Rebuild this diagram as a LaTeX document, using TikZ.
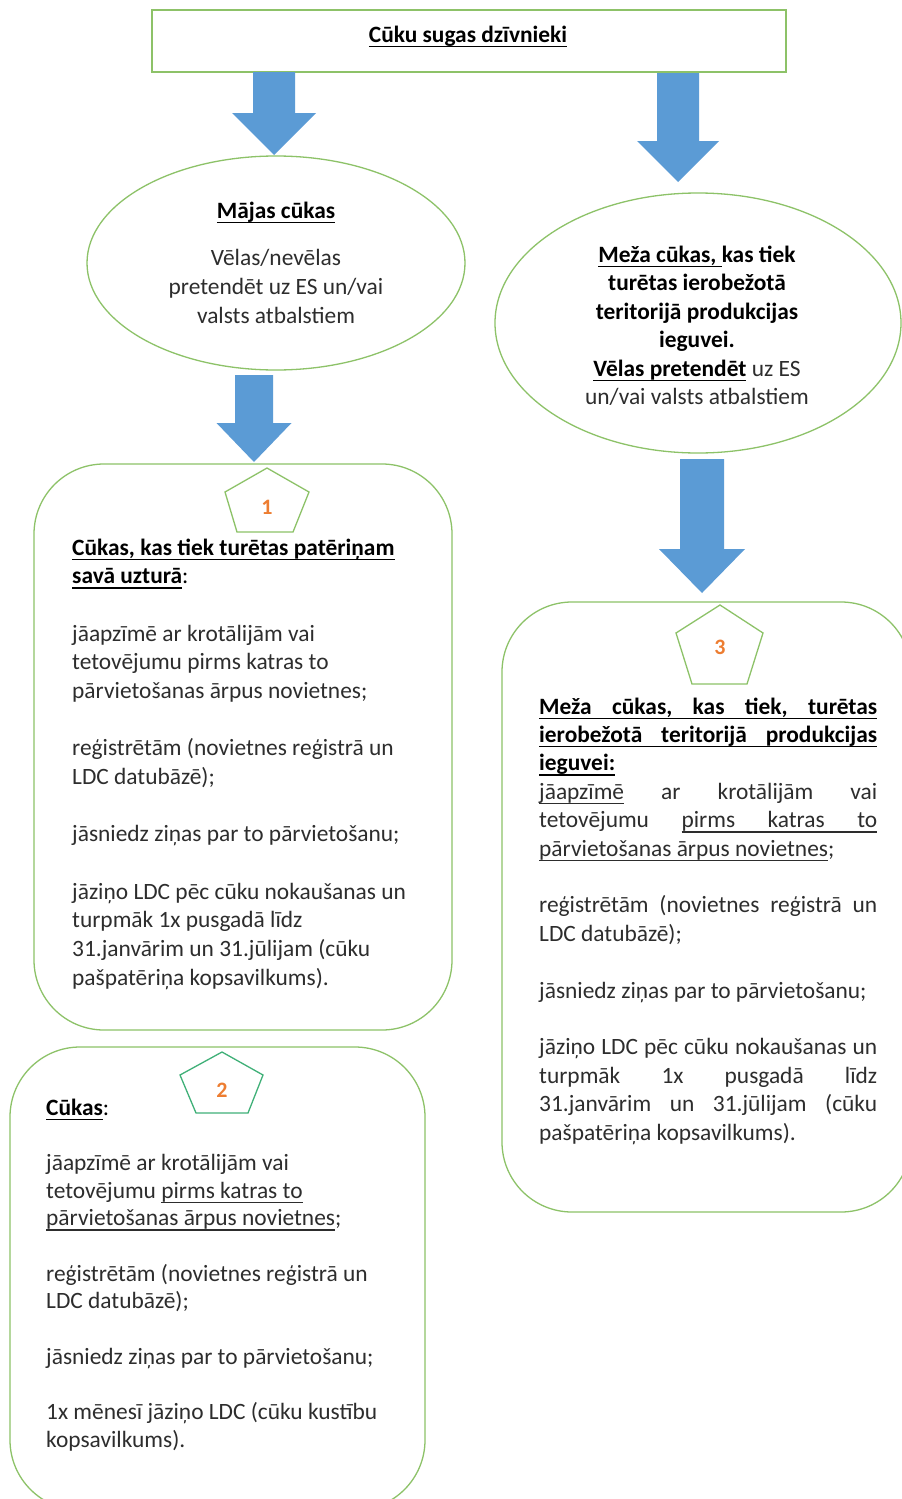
\documentclass[tikz,border=0pt]{standalone}
\usepackage{fontspec}
\setmainfont{Carlito}
\usetikzlibrary{shapes.geometric}
\definecolor{grn}{RGB}{141,194,104}
\definecolor{teal2}{RGB}{64,176,120}
\definecolor{ablue}{RGB}{91,155,213}
\definecolor{orng}{RGB}{237,125,49}
\definecolor{txtgray}{RGB}{45,45,45}
\newsavebox\ulbox
\newcommand\ulw[1]{\sbox\ulbox{#1}\rlap{\usebox\ulbox}\rule[-4.9pt]{\wd\ulbox}{1.3pt}}
\newcommand\uls{\leaders\hrule height -3.6pt depth 4.9pt\hskip\fontdimen2\font plus\fontdimen3\font minus\fontdimen4\font\relax}
\newcommand\J[1]{\makebox[338pt][s]{#1}}
\newcommand\blockarrow[6]{% cx, top, headstart, tip, shafthalf, headhalf
  \fill[ablue] (#1-#5,#2) -- (#1+#5,#2) -- (#1+#5,#3) -- (#1+#6,#3) -- (#1,#4)
    -- (#1-#6,#3) -- (#1-#5,#3) -- cycle;}
\tikzset{
  body/.style={anchor=base west, inner sep=0pt, text=txtgray,
    font=\fontsize{23.4}{28}\selectfont},
  ctr/.style={anchor=base, inner sep=0pt, text=txtgray,
    font=\fontsize{23.4}{28}\selectfont},
  bodyb/.style={body, text=black, font=\bfseries\fontsize{23.4}{28}\selectfont},
  ctrb/.style={ctr, text=black, font=\bfseries\fontsize{23.4}{28}\selectfont},
  greenline/.style={draw=grn, line width=1.3pt},
  num/.style={inner sep=0pt, text=orng, font=\bfseries\fontsize{22}{26}\selectfont},
}
\begin{document}
\begin{tikzpicture}[x=1pt,y=-1pt]
\useasboundingbox (0,0) rectangle (902,1499);
\clip (0,0) rectangle (902,1499);
\fill[white] (0,0) rectangle (902,1499);

% top box
\node[greenline, rectangle, minimum width=634pt, minimum height=62pt, inner sep=0pt] (top) at (469,41) {};
\node[ctrb] (toptxt) at (468,42) {\ulw{Cūku sugas dzīvnieki}};

% arrows
\blockarrow{274}{72}{113}{155}{21}{42}
\blockarrow{678}{73}{141}{182}{21}{41}
\blockarrow{254}{375}{423}{462}{19}{37.5}
\blockarrow{702}{459}{549}{593}{22}{43}

% ellipses
\node[greenline, ellipse, minimum width=378pt, minimum height=214pt, inner sep=0pt] (e1) at (276,263) {};
\node[greenline, ellipse, minimum width=406pt, minimum height=260pt, inner sep=0pt] (e2) at (698,323) {};

\node[ctrb] (e1a) at (276,218) {\ulw{Mājas cūkas}};
\node[ctr] (e1b) at (276,265) {Vēlas/nevēlas};
\node[ctr] (e1c) at (276,294) {pretendēt uz ES un/vai};
\node[ctr] (e1d) at (276,323) {valsts atbalstiem};

\node[ctrb] (e2a) at (697,262) {\ulw{Meža cūkas, }kas tiek};
\node[ctrb] (e2b) at (697,290.5) {turētas ierobežotā};
\node[ctrb] (e2c) at (697,319) {teritorijā produkcijas};
\node[ctrb] (e2d) at (697,347.5) {ieguvei.};
\node[ctr] (e2e) at (697,376) {{\color{black}\bfseries\ulw{Vēlas pretendēt}} uz ES};
\node[ctr] (e2f) at (697,404.5) {un/vai valsts atbalstiem};

% rounded boxes
\node[greenline, rectangle, rounded corners=70pt, minimum width=418pt, minimum height=566pt, inner sep=0pt] (b1) at (243,747) {};
\node[greenline, rectangle, rounded corners=70pt, minimum width=415pt, minimum height=463pt, inner sep=0pt] (b2) at (217.5,1278.5) {};
\node[greenline, rectangle, rounded corners=70pt, minimum width=409pt, minimum height=610pt, inner sep=0pt] (b3) at (706.5,907) {};

% pentagons
\draw[greenline] (267,468) -- (309,492) -- (293,532) -- (237,532) -- (225,492) -- cycle;
\node[num] (n1) at (267,507) {1};
\draw[draw=teal2, line width=1.3pt] (222,1052) -- (263,1075) -- (248,1113) -- (196,1113) -- (180,1075) -- cycle;
\node[num] (n2) at (222,1090) {2};
\draw[greenline] (720,605) -- (763,633) -- (747,684) -- (692,684) -- (676,633) -- cycle;
\node[num] (n3) at (720,647) {3};

% box 1 text
\node[bodyb] (b1l0) at (72,555) {\ulw{Cūkas, kas tiek turētas patēriņam}};
\node[bodyb] (b1l1) at (72,583.7) {\ulw{savā uzturā}\mdseries:};
\node[body] (b1l3) at (72,641) {jāapzīmē ar krotālijām vai};
\node[body] (b1l4) at (72,669.7) {tetovējumu pirms katras to};
\node[body] (b1l5) at (72,698.3) {pārvietošanas ārpus novietnes;};
\node[body] (b1l7) at (72,755.7) {reģistrētām (novietnes reģistrā un};
\node[body] (b1l8) at (72,784.3) {LDC datubāzē);};
\node[body] (b1l10) at (72,841.7) {jāsniedz ziņas par to pārvietošanu;};
\node[body] (b1l12) at (72,899) {jāziņo LDC pēc cūku nokaušanas un};
\node[body] (b1l13) at (72,927.7) {turpmāk 1x pusgadā līdz};
\node[body] (b1l14) at (72,956.3) {31.janvārim un 31.jūlijam (cūku};
\node[body] (b1l15) at (72,985) {pašpatēriņa kopsavilkums).};

% box 2 text
\node[bodyb] (b2l0) at (46,1115) {\ulw{Cūkas}\mdseries:};
\node[body] (b2l2) at (46,1170.4) {jāapzīmē ar krotālijām vai};
\node[body] (b2l3) at (46,1198.1) {tetovējumu \ulw{pirms katras to}};
\node[body] (b2l4) at (46,1225.8) {\ulw{pārvietošanas ārpus novietnes};};
\node[body] (b2l6) at (46,1281.2) {reģistrētām (novietnes reģistrā un};
\node[body] (b2l7) at (46,1308.9) {LDC datubāzē);};
\node[body] (b2l9) at (46,1364.3) {jāsniedz ziņas par to pārvietošanu;};
\node[body] (b2l11) at (46,1419.7) {1x mēnesī jāziņo LDC (cūku kustību};
\node[body] (b2l12) at (46,1447.4) {kopsavilkums).};

% box 3 text
\node[bodyb] (b3l0) at (539,714) {\J{\ulw{Meža}\uls\ulw{cūkas,}\uls\ulw{kas}\uls\ulw{tiek,}\uls\ulw{turētas}}};
\node[bodyb] (b3l1) at (539,742.4) {\J{\ulw{ierobežotā}\uls\ulw{teritorijā}\uls\ulw{produkcijas}}};
\node[bodyb] (b3l2) at (539,770.8) {\ulw{ieguvei:}};
\node[body] (b3l3) at (539,799.2) {\J{\ulw{jāapzīmē} ar krotālijām vai}};
\node[body] (b3l4) at (539,827.6) {\J{tetovējumu \ulw{pirms}\uls\ulw{katras}\uls\ulw{to}}};
\node[body] (b3l5) at (539,856) {\ulw{pārvietošanas ārpus novietnes};};
\node[body] (b3l7) at (539,912.8) {\J{reģistrētām (novietnes reģistrā un}};
\node[body] (b3l8) at (539,941.2) {LDC datubāzē);};
\node[body] (b3l10) at (539,998) {jāsniedz ziņas par to pārvietošanu;};
\node[body] (b3l12) at (539,1054.8) {\J{jāziņo LDC pēc cūku nokaušanas un}};
\node[body] (b3l13) at (539,1083.2) {\J{turpmāk 1x pusgadā līdz}};
\node[body] (b3l14) at (539,1111.6) {\J{31.janvārim un 31.jūlijam (cūku}};
\node[body] (b3l15) at (539,1140) {pašpatēriņa kopsavilkums).};
\end{tikzpicture}
\end{document}
